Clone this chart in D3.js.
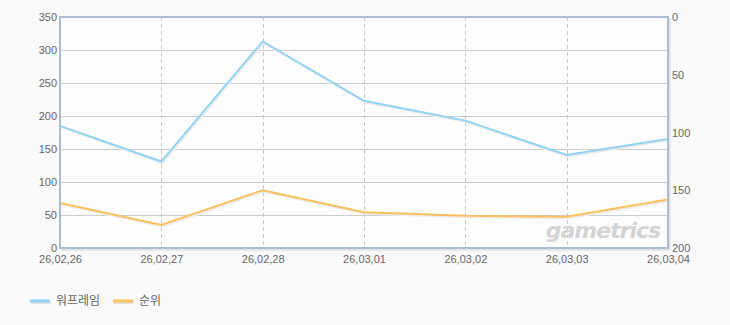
<!DOCTYPE html>
<html><head><meta charset="utf-8">
<script src="https://cdn.jsdelivr.net/npm/d3@7"></script>
<style>
html,body{margin:0;padding:0;background:#fafafa;}
svg{display:block;font-family:"Liberation Sans",sans-serif;}
</style></head><body>
<script>
const dates = ["26,02,26","26,02,27","26,02,28","26,03,01","26,03,02","26,03,03","26,03,04"];
const playerValues = [185, 131, 313, 223, 193, 141, 165];
const rankValues = [161, 180, 150, 169, 172, 173, 158];
const leftTicks = [0,50,100,150,200,250,300,350];
const rightTicks = [0,50,100,150,200];
const seriesNames = ["워프레임","순위"];
const colors = ["#90d2f2","#fcbf5e"];

const W=730,H=325, m={l:60,r:62,t:17,b:77};
const svg=d3.select("body").append("svg").attr("width",W).attr("height",H);
svg.append("rect").attr("width",W).attr("height",H).attr("fill","#fafafa");
const iw=W-m.l-m.r, ih=H-m.t-m.b;
const x=d3.scalePoint().domain(dates).range([m.l,m.l+iw]);
const yL=d3.scaleLinear().domain([0,350]).range([m.t+ih,m.t]);
const yR=d3.scaleLinear().domain([0,200]).range([m.t,m.t+ih]);

svg.append("rect").attr("x",m.l+2).attr("y",m.t+2).attr("width",iw).attr("height",ih).attr("fill","none").attr("stroke","#e6e6e6").attr("stroke-width",2);
svg.append("rect").attr("x",m.l).attr("y",m.t).attr("width",iw).attr("height",ih).attr("fill","#fdfdfd");

svg.append("g").selectAll("line").data(leftTicks.slice(1,-1)).join("line")
 .attr("x1",m.l).attr("x2",m.l+iw).attr("y1",d=>Math.round(yL(d))+0.5).attr("y2",d=>Math.round(yL(d))+0.5)
 .attr("stroke","#cccccc").attr("stroke-width",1);
svg.append("g").selectAll("line").data(dates.slice(1,-1)).join("line")
 .attr("x1",d=>Math.round(x(d))+0.5).attr("x2",d=>Math.round(x(d))+0.5).attr("y1",m.t).attr("y2",m.t+ih)
 .attr("stroke","#c8c8c8").attr("stroke-dasharray","4,3");

svg.append("text").attr("x",603).attr("y",238).attr("text-anchor","middle")
 .attr("font-family","DejaVu Sans").attr("font-weight","bold").attr("font-style","italic")
 .attr("font-size",22).attr("letter-spacing",-1).attr("fill","#d4d4d4").text("gametrics");

const lineL=d3.line().x((d,i)=>x(dates[i])).y(d=>yL(d));
const lineR=d3.line().x((d,i)=>x(dates[i])).y(d=>yR(d));
svg.append("path").attr("d",lineL(playerValues)).attr("fill","none").attr("stroke","#ececec").attr("stroke-width",2).attr("transform","translate(1,1.5)");
svg.append("path").attr("d",lineR(rankValues)).attr("fill","none").attr("stroke","#ececec").attr("stroke-width",2).attr("transform","translate(1,1.5)");
svg.append("path").attr("d",lineL(playerValues)).attr("fill","none").attr("stroke",colors[0]).attr("stroke-width",2);
svg.append("path").attr("d",lineR(rankValues)).attr("fill","none").attr("stroke",colors[1]).attr("stroke-width",2);

svg.append("rect").attr("x",m.l).attr("y",m.t).attr("width",iw).attr("height",ih).attr("fill","none").attr("stroke","#a9bcd2").attr("stroke-width",2);

const axL=svg.append("g").attr("transform",`translate(${m.l-2},0)`)
 .call(d3.axisLeft(yL).tickValues(leftTicks).tickSize(0).tickPadding(1));
const axR=svg.append("g").attr("transform",`translate(${m.l+iw+2},0)`)
 .call(d3.axisRight(yR).tickValues(rightTicks).tickSize(0).tickPadding(2));
const axB=svg.append("g").attr("transform",`translate(0,${m.t+ih+3})`)
 .call(d3.axisBottom(x).tickSize(0).tickPadding(4));
[axL,axR,axB].forEach(a=>{a.select(".domain").remove();a.selectAll("text").attr("fill","#666").attr("font-size",11).attr("font-family","Liberation Sans");});

const lg=svg.append("g");
const lx=[30,113];
seriesNames.forEach((n,i)=>{
 lg.append("line").attr("x1",lx[i]+1).attr("x2",lx[i]+21).attr("y1",302.5).attr("y2",302.5).attr("stroke","#e0e0e0").attr("stroke-width",3);
 lg.append("line").attr("x1",lx[i]).attr("x2",lx[i]+20).attr("y1",301).attr("y2",301).attr("stroke",colors[i]).attr("stroke-width",3);
 lg.append("text").attr("x",lx[i]+26).attr("y",305).attr("font-size",12).attr("fill","#666").attr("font-family","Noto Sans CJK KR").text(n);
});
</script>
</body></html>
